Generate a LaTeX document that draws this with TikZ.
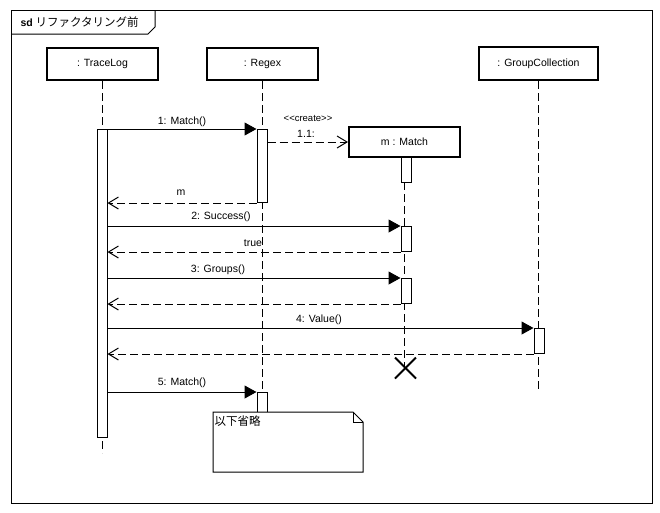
\documentclass[tikz,border=0pt]{standalone}
\usepackage{fontspec}
\setmainfont{Liberation Sans}
\newfontfamily\jpfont{Noto Sans CJK JP}
\usetikzlibrary{arrows.meta,calc}
\begin{document}
\begin{tikzpicture}[x=1pt,y=-1pt, line width=1pt,
  font=\fontsize{10.5}{12}\selectfont,
  head/.style={draw, line width=2pt, fill=white, minimum height=32pt, inner sep=0pt},
  act/.style={draw, line width=1pt, fill=white, minimum width=10pt, inner sep=0pt, anchor=north},
  life/.style={dash pattern=on 8pt off 4pt},
  call/.style={-{Triangle[length=12pt,width=13pt]}},
  ret/.style={dash pattern=on 8pt off 4pt, -{Straight Barb[length=10pt,width=12pt]}},
  lbl/.style={inner sep=0pt}]
\useasboundingbox (0,0) rectangle (660,512);
% frame
\draw (11,10) rectangle (652,503);
\draw (11,34) -- (148,34) -- (155,27) -- (155,10);
\node[lbl, anchor=west] (title) at (20,22) {\textbf{sd} {\jpfont\fontsize{11.5}{13}\selectfont リファクタリング前}};
% heads
\node[head, minimum width=111pt] (tl) at (102.5,64) {: TraceLog};
\node[head, minimum width=111pt] (rg) at (262.5,64) {: Regex};
\node[head, minimum width=119pt, minimum height=33pt] (gc) at (538.5,63.5) {: GroupCollection};
\node[head, minimum width=111pt, minimum height=30pt] (mt) at (404.5,142) {m : Match};
% lifelines
\coordinate (tlend) at (102,453);
\coordinate (rgend) at (262,412);
\coordinate (gcend) at (539,390);
\coordinate (mtend) at (405.5,368);
\draw[life] (tl.south) -- (tl.south |- tlend);
\draw[life] (rg.south) -- (rg.south |- rgend);
\draw[life] (gc.south) -- (gc.south |- gcend);
\draw[life] (mt.south) -- (mt.south |- mtend);
% activations
\node[act, minimum height=308pt] (tla) at (102,129) {};
\node[act, minimum height=73pt] (rga1) at (262,129) {};
\node[act, minimum height=25pt] (ma1) at (406,157) {};
\node[act, minimum height=25pt] (ma2) at (406,226) {};
\node[act, minimum height=25pt] (ma3) at (406,278) {};
\node[act, minimum height=25pt] (ga) at (539,328) {};
\node[act, minimum height=22pt] (rga2) at (262,392) {};
% messages
\draw[call] (tla.north east) -- (rga1.north west);
\node[lbl] (l1) at (182,122) {1: Match()};
\draw[ret] (rga1.east |- mt.west) -- (mt.west);
\node[lbl, font=\fontsize{9.5}{10}\selectfont] (l11a) at (308,118) {{<}{<}create{>}{>}};
\node[lbl] (l11b) at (306,134) {1.1:};
\draw[ret] (rga1.south west) -- (tla.east |- rga1.south);
\node[lbl] (lm) at (181,193) {m};
\draw[call] (tla.east |- ma2.north) -- (ma2.north west);
\node[lbl] (l2) at (221,217) {2: Success()};
\draw[ret] (ma2.south west) -- (tla.east |- ma2.south);
\node[lbl] (lt) at (253,243) {true};
\draw[call] (tla.east |- ma3.north) -- (ma3.north west);
\node[lbl] (l3) at (218,270) {3: Groups()};
\draw[ret] (ma3.south west) -- (tla.east |- ma3.south);
\draw[call] (tla.east |- ga.north) -- (ga.north west);
\node[lbl] (l4) at (319,320) {4: Value()};
\draw[ret] (ga.south west) -- (tla.east |- ga.south);
\draw[call] (tla.east |- rga2.north) -- (rga2.north west);
\node[lbl] (l5) at (182,383) {5: Match()};
% destroy
\draw[line width=2pt] ($(mtend)+(-10.5,-10.5)$) -- ($(mtend)+(10.5,10.5)$);
\draw[line width=2pt] ($(mtend)+(-10.5,10.5)$) -- ($(mtend)+(10.5,-10.5)$);
% note
\draw[fill=white] (213,412) -- (353,412) -- (363,422) -- (363,472) -- (213,472) -- cycle;
\draw (353,412) -- (353,422) -- (363,422);
\node[lbl, anchor=north west] (note) at (214,415) {\jpfont\fontsize{11.5}{13}\selectfont 以下省略};
\end{tikzpicture}
\end{document}
